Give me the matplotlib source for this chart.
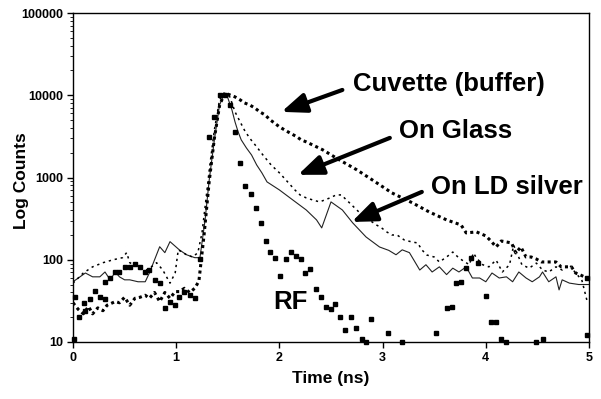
import matplotlib
matplotlib.use("Agg")
import matplotlib.pyplot as plt
from matplotlib.ticker import FixedLocator, NullFormatter, LogLocator

plt.rcParams['font.family'] = ['Liberation Sans', 'DejaVu Sans']

# ---- data ----
t_cuvette = [0.00, 0.05, 0.10, 0.15, 0.19, 0.24, 0.29, 0.33, 0.41, 0.45, 0.50, 0.55, 0.60, 0.65,
             0.70, 0.74, 0.79, 0.84, 0.89, 0.94, 0.99, 1.03, 1.08, 1.13, 1.18, 1.22, 1.27, 1.32,
             1.37, 1.42, 1.47, 1.52, 1.57, 1.62, 1.66, 1.71, 1.76, 1.81, 1.86, 1.91, 1.95, 2.00,
             2.05, 2.10, 2.17, 2.21, 2.26, 2.42, 2.58, 2.75, 2.90, 3.09, 3.29, 3.45, 3.62, 3.76,
             3.81, 3.91, 4.00, 4.05, 4.10, 4.15, 4.25, 4.29, 4.34, 4.39, 4.44, 4.49, 4.54, 4.58,
             4.68, 4.73, 4.83, 4.87, 4.92, 4.98]
n_cuvette = [30, 25, 22, 27, 22, 26, 24, 28, 31, 30, 35, 28, 34, 35,
             37, 34, 40, 31, 40, 34, 41, 41, 45, 40, 45, 55, 200, 900,
             3000, 7500, 10700, 10100, 9550, 8780, 8080, 7640, 7030, 6280, 5780, 5020, 4620, 4130,
             3790, 3490, 3120, 2870, 2710, 2170, 1640, 1240, 935, 650, 491, 382, 305, 265,
             212, 218, 195, 169, 143, 169, 160, 121, 143, 108, 108, 102, 94, 94,
             94, 82, 82, 69, 65, 60]

t_glass = [0.00, 0.10, 0.19, 0.29, 0.39, 0.48, 0.52, 0.55, 0.65, 0.72, 0.81, 0.87, 0.94, 0.99,
           1.02, 1.10, 1.16, 1.21, 1.25, 1.28, 1.32, 1.37, 1.42, 1.46, 1.52, 1.57, 1.62, 1.66,
           1.71, 1.78, 1.84, 1.92, 2.00, 2.08, 2.15, 2.20, 2.26, 2.33, 2.39, 2.49, 2.55, 2.60,
           2.65, 2.68, 2.75, 2.80, 2.87, 2.94, 2.99, 3.04, 3.09, 3.14, 3.21, 3.28, 3.34, 3.38,
           3.43, 3.50, 3.55, 3.62, 3.68, 3.74, 3.77, 3.84, 3.88, 3.91, 3.97, 4.03, 4.10, 4.16,
           4.23, 4.27, 4.35, 4.42, 4.49, 4.55, 4.61, 4.68, 4.74, 4.81, 4.87, 4.93, 4.98]
n_glass = [52, 69, 82, 92, 100, 106, 122, 92, 80, 75, 92, 75, 52, 69,
           132, 115, 108, 122, 212, 439, 1230, 3790, 8800, 10500, 9550, 6280, 4740, 3790,
           3030, 2360, 1880, 1420, 1140, 884, 706, 614, 565, 530, 505, 565, 614, 614,
           533, 491, 403, 351, 305, 265, 244, 218, 200, 200, 174, 165, 160, 132,
           114, 108, 94, 108, 124, 105, 99, 87, 121, 105, 87, 82, 99, 71,
           87, 150, 87, 79, 91, 75, 71, 82, 75, 87, 69, 57, 32]

t_silver = [0.00, 0.12, 0.19, 0.26, 0.31, 0.36, 0.41, 0.45, 0.50, 0.55, 0.63, 0.70, 0.74, 0.84,
            0.89, 0.94, 1.03, 1.10, 1.18, 1.23, 1.28, 1.32, 1.37, 1.42, 1.47, 1.50, 1.54, 1.57,
            1.60, 1.63, 1.68, 1.73, 1.78, 1.83, 1.88, 2.00, 2.13, 2.26, 2.36, 2.41, 2.50, 2.61,
            2.71, 2.84, 2.97, 3.06, 3.13, 3.19, 3.26, 3.36, 3.42, 3.48, 3.55, 3.62, 3.68, 3.74,
            3.81, 3.87, 3.94, 4.00, 4.06, 4.13, 4.20, 4.26, 4.32, 4.39, 4.45, 4.52, 4.55, 4.61,
            4.68, 4.71, 4.74, 4.81, 4.90, 5.00]
n_silver = [54, 69, 62, 62, 71, 57, 71, 62, 57, 57, 54, 54, 69, 144,
            122, 166, 132, 115, 106, 106, 305, 935, 2870, 7600, 10700, 9300, 6640, 4740,
            3590, 2870, 2290, 1880, 1420, 1140, 884, 706, 533, 403, 305, 244, 505, 403,
            281, 189, 143, 130, 115, 132, 122, 75, 87, 71, 82, 66, 79, 71,
            82, 60, 60, 54, 69, 60, 62, 54, 71, 60, 54, 62, 71, 54,
            62, 43, 57, 52, 50, 50]

t_rf = [0.01, 0.02, 0.06, 0.11, 0.12, 0.16, 0.21, 0.26, 0.31, 0.31, 0.36, 0.41, 0.45, 0.50,
        0.55, 0.60, 0.65, 0.70, 0.74, 0.79, 0.84, 0.89, 0.94, 0.99, 1.03, 1.08, 1.13, 1.18,
        1.23, 1.32, 1.37, 1.42, 1.47, 1.52, 1.57, 1.62, 1.67, 1.72, 1.77, 1.82, 1.87, 1.91,
        1.96, 2.01, 2.06, 2.11, 2.16, 2.21, 2.25, 2.30, 2.35, 2.40, 2.45, 2.50, 2.54, 2.59,
        2.64, 2.69, 2.74, 2.80, 2.84, 2.89, 3.05, 3.19, 3.52, 3.62, 3.67, 3.71, 3.76, 3.81,
        3.86, 3.92, 4.00, 4.05, 4.10, 4.15, 4.20, 4.49, 4.55, 4.98, 4.98]
n_rf = [11, 35, 20, 30, 24, 33, 42, 35, 33, 54, 60, 71, 71, 82,
        82, 89, 82, 71, 75, 57, 52, 26, 31, 28, 35, 40, 37, 34,
        103, 3100, 5500, 10200, 10200, 7600, 3590, 1500, 790, 630, 427, 281, 169, 124,
        105, 64, 102, 124, 111, 102, 69, 77, 44, 35, 27, 25, 29, 20,
        14, 20, 15, 11, 10, 19, 13, 10, 13, 26, 27, 52, 54, 79,
        105, 91, 36, 17.5, 17.5, 11, 10, 10, 11, 12, 60]

x_ticks = [0, 1, 2, 3, 4, 5]
y_ticks = [10, 100, 1000, 10000, 100000]
y_ticklabels = ['10', '100', '1000', '10000', '100000']

# ---- figure ----
fig = plt.figure(figsize=(6.01, 3.99), dpi=100)
ax = fig.add_axes([73/601, 1 - 342/399, (589 - 73)/601, (342 - 13)/399])

ax.plot(t_silver, n_silver, color='#222222', lw=0.8, solid_joinstyle='round')
ax.plot(t_glass, n_glass, color='black', lw=1.1, linestyle=(0, (1.5, 2.5)))
ax.plot(t_cuvette, n_cuvette, color='black', lw=2.2, linestyle=(0, (1, 1.1)), dash_capstyle='butt')
ax.plot(t_rf, n_rf, linestyle='none', marker='s', ms=3.0, color='black', clip_on=False)

ax.set_yscale('log')
ax.set_xlim(0, 5)
ax.set_ylim(10, 100000)
ax.xaxis.set_major_locator(FixedLocator(x_ticks))
ax.set_xticklabels([str(v) for v in x_ticks])
ax.yaxis.set_major_locator(FixedLocator(y_ticks))
ax.set_yticklabels(y_ticklabels)
ax.yaxis.set_minor_locator(LogLocator(base=10, subs=range(2, 10)))
ax.yaxis.set_minor_formatter(NullFormatter())

for lab in ax.get_xticklabels() + ax.get_yticklabels():
    lab.set_fontweight('bold')
ax.tick_params(axis='both', which='major', direction='out', length=4, width=1, labelsize=9, pad=3)
ax.tick_params(axis='y', which='minor', direction='out', length=2, width=0.6)
for s in ax.spines.values():
    s.set_linewidth(1.0)

ax.set_xlabel('Time (ns)', fontsize=12.5, fontweight='bold')
ax.set_ylabel('Log Counts', fontsize=12.5, fontweight='bold')
ax.xaxis.set_label_coords(0.5, (342 - 371) / 329)
ax.yaxis.set_label_coords((29 - 73) / 516, 0.49)

# ---- annotations ----
tfs = 18.5
ax.text(2.71, 13800, 'Cuvette (buffer)', fontsize=tfs, fontweight='bold', va='center', ha='left')
ax.text(3.16, 3690, 'On Glass', fontsize=tfs, fontweight='bold', va='center', ha='left')
ax.text(3.47, 769, 'On LD silver', fontsize=tfs, fontweight='bold', va='center', ha='left')
ax.text(1.94, 30.7, 'RF', fontsize=tfs, fontweight='bold', va='center', ha='left')

aprops = dict(arrowstyle='-|>,head_length=1.5,head_width=0.6', lw=3.0, color='black',
              shrinkA=0, shrinkB=0, mutation_scale=10)
ax.annotate('', xy=(2.02, 6280), xytext=(2.61, 11600), arrowprops=aprops)
ax.annotate('', xy=(2.18, 1077), xytext=(3.07, 3030), arrowprops=aprops)
ax.annotate('', xy=(2.70, 288), xytext=(3.38, 668), arrowprops=aprops)

fig.savefig('out.png', dpi=100)
